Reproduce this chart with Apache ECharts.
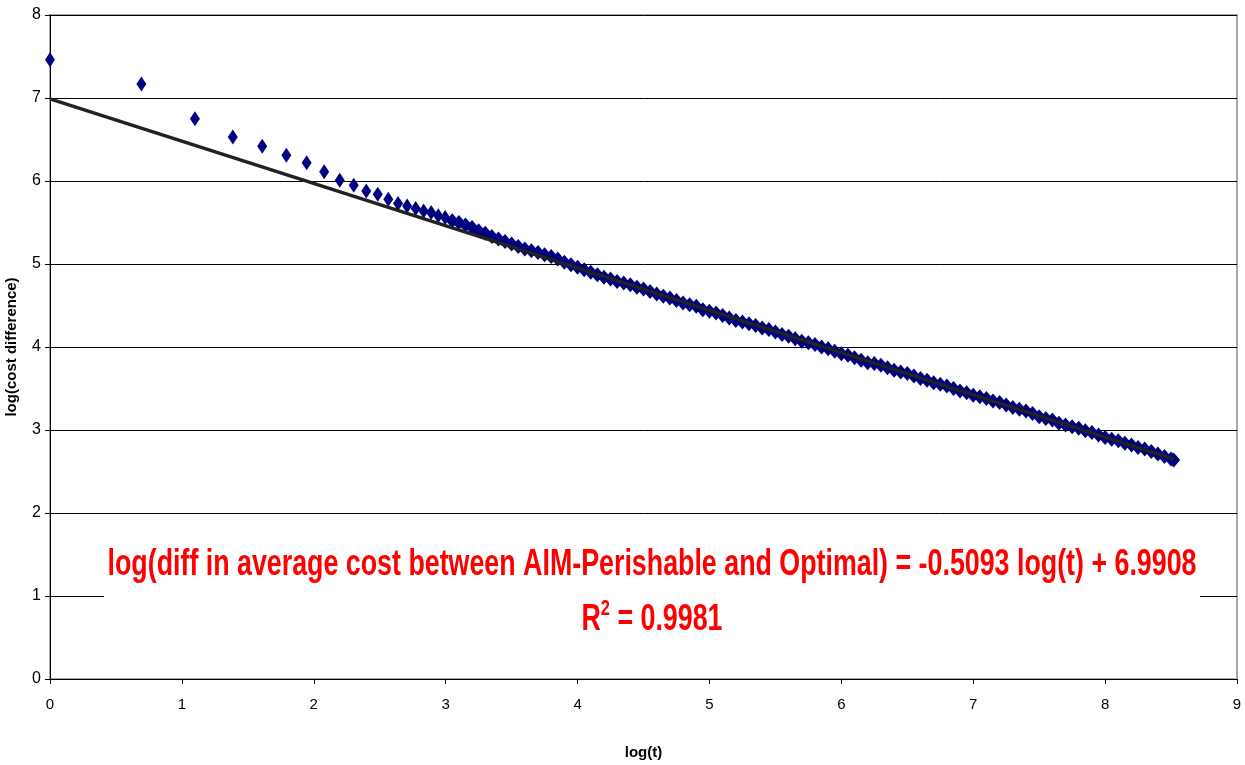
<!DOCTYPE html>
<html>
<head>
<meta charset="utf-8">
<script src="https://cdn.jsdelivr.net/npm/echarts@6/dist/echarts.min.js"></script>
<style>
  html, body { margin: 0; padding: 0; background: #fff; }
  #chart { width: 1245px; height: 765px; }
</style>
</head>
<body>
<div id="chart"></div>
<script>
// early points, one per t (t = 1..20)
var earlyLogT = [0, 0.693, 1.099, 1.386, 1.609, 1.792, 1.946, 2.079, 2.197, 2.303,
                 2.398, 2.485, 2.565, 2.639, 2.708, 2.773, 2.833, 2.890, 2.944, 2.996];
var earlyLogCost = [7.46, 7.17, 6.75, 6.53, 6.42, 6.31, 6.22, 6.11, 6.01, 5.95,
                    5.88, 5.84, 5.78, 5.73, 5.70, 5.67, 5.64, 5.62, 5.58, 5.56];

// dense band
var bandLogT = [3.05, 3.10, 3.15, 3.20, 3.25, 3.30, 3.35, 3.40, 3.45, 3.50,
                3.55, 3.60, 3.65, 3.70, 3.75, 3.80, 3.85, 3.90, 3.95, 4.00,
                4.05, 4.10, 4.15, 4.20, 4.25, 4.30, 4.35, 4.40, 4.45, 4.50,
                4.55, 4.60, 4.65, 4.70, 4.75, 4.80, 4.85, 4.90, 4.95, 5.00,
                5.05, 5.10, 5.15, 5.20, 5.25, 5.30, 5.35, 5.40, 5.45, 5.50,
                5.55, 5.60, 5.65, 5.70, 5.75, 5.80, 5.85, 5.90, 5.95, 6.00,
                6.05, 6.10, 6.15, 6.20, 6.25, 6.30, 6.35, 6.40, 6.45, 6.50,
                6.55, 6.60, 6.65, 6.70, 6.75, 6.80, 6.85, 6.90, 6.95, 7.00,
                7.05, 7.10, 7.15, 7.20, 7.25, 7.30, 7.35, 7.40, 7.45, 7.50,
                7.55, 7.60, 7.65, 7.70, 7.75, 7.80, 7.85, 7.90, 7.95, 8.00,
                8.05, 8.10, 8.15, 8.20, 8.25, 8.30, 8.35, 8.40, 8.45, 8.50, 8.52];
var bandLogCost = [5.52, 5.50, 5.47, 5.44, 5.40, 5.37, 5.33, 5.30, 5.27, 5.24,
                   5.21, 5.18, 5.16, 5.14, 5.11, 5.09, 5.06, 5.02, 4.99, 4.96,
                   4.93, 4.90, 4.87, 4.84, 4.82, 4.79, 4.77, 4.75, 4.72, 4.70,
                   4.67, 4.64, 4.61, 4.59, 4.56, 4.53, 4.51, 4.49, 4.45, 4.43,
                   4.41, 4.38, 4.35, 4.32, 4.30, 4.28, 4.26, 4.23, 4.21, 4.18,
                   4.15, 4.13, 4.10, 4.07, 4.05, 4.03, 4.00, 3.98, 3.95, 3.92,
                   3.90, 3.87, 3.84, 3.81, 3.80, 3.78, 3.75, 3.72, 3.70, 3.68,
                   3.65, 3.62, 3.60, 3.57, 3.55, 3.53, 3.50, 3.47, 3.45, 3.42,
                   3.40, 3.38, 3.35, 3.33, 3.30, 3.27, 3.25, 3.23, 3.20, 3.16,
                   3.14, 3.12, 3.08, 3.06, 3.04, 3.02, 2.99, 2.97, 2.94, 2.91,
                   2.89, 2.87, 2.84, 2.82, 2.79, 2.77, 2.74, 2.71, 2.68, 2.65, 2.64];

// trend line ends
var trendLogT = [0, 8.52];
var trendLogCost = [6.99, 2.65];

var eqText = 'log(diff in average cost between AIM-Perishable and Optimal) = -0.5093 log(t) + 6.9908';
var r2Value = '0.9981';

var earlyPts = [];
for (var i = 0; i < earlyLogT.length; i++) earlyPts.push([earlyLogT[i], earlyLogCost[i]]);
var bandPts = [];
for (var k = 0; k < bandLogT.length; k++) bandPts.push([bandLogT[k], bandLogCost[k]]);
var trend = [];
for (var j = 0; j < trendLogT.length; j++) trend.push([trendLogT[j], trendLogCost[j]]);

// squeeze the label text horizontally, like the narrow original
var eqFont = 'bold 36px "Liberation Sans", Arial, sans-serif';
var cv = document.createElement('canvas').getContext('2d');
cv.font = eqFont;
var eqScale = 1089 / cv.measureText(eqText).width;

var myChart = echarts.init(document.getElementById('chart'));

var option = {
    backgroundColor: '#fff',
    animation: false,
    grid: {
        left: 50, right: 8, top: 15, bottom: 86,
        outerBoundsMode: 'none',
        containLabel: false,
        show: true,
        borderColor: '#a6a6a6',
        borderWidth: 2
    },
    xAxis: {
        type: 'value',
        min: 0, max: 9, interval: 1,
        name: 'log(t)',
        nameLocation: 'middle',
        nameGap: 66,
        nameTextStyle: { color: '#000', fontSize: 15, fontWeight: 'bold', fontFamily: 'Liberation Sans' },
        axisLine: { onZero: false, lineStyle: { color: '#000', width: 1 } },
        axisTick: { show: true, inside: false, length: 5, lineStyle: { color: '#000' } },
        axisLabel: { color: '#000', fontSize: 15, margin: 18, fontFamily: 'Liberation Sans' },
        splitLine: { show: false }
    },
    yAxis: {
        type: 'value',
        min: 0, max: 8, interval: 1,
        name: 'log(cost difference)',
        nameLocation: 'middle',
        nameGap: 31,
        nameRotate: 90,
        nameTextStyle: { color: '#000', fontSize: 15, fontWeight: 'bold', fontFamily: 'Liberation Sans' },
        axisLine: { show: true, lineStyle: { color: '#000', width: 1 } },
        axisTick: { show: true, inside: false, length: 5, lineStyle: { color: '#000' } },
        axisLabel: { color: '#000', fontSize: 16, margin: 9, fontFamily: 'Liberation Sans' },
        splitLine: { show: true, lineStyle: { color: '#000', width: 1 } }
    },
    series: [
        {
            name: 'cost difference',
            type: 'scatter',
            symbol: 'diamond',
            symbolSize: [10, 15],
            itemStyle: { color: '#000080', opacity: 1 },
            data: earlyPts,
            z: 2
        },
        {
            // same series in the picture; the band is packed with markers
            name: 'cost difference',
            type: 'scatter',
            symbol: 'diamond',
            symbolSize: [13, 15],
            itemStyle: { color: '#000080', opacity: 1 },
            data: bandPts,
            z: 2
        },
        {
            name: 'trend',
            type: 'line',
            symbol: 'none',
            lineStyle: { color: '#222', width: 3.5 },
            data: trend,
            z: 3
        }
    ],
    graphic: [
        {
            type: 'rect',
            shape: { x: 104, y: 532, width: 1096, height: 118 },
            style: { fill: '#fff' },
            z: 50
        },
        {
            type: 'text',
            x: 652, y: 565,
            scaleX: eqScale,
            z: 51,
            style: {
                text: eqText,
                fill: '#ff0000',
                font: eqFont,
                align: 'center',
                verticalAlign: 'middle'
            }
        },
        {
            type: 'text',
            x: 652, y: 620,
            scaleX: eqScale,
            z: 51,
            style: {
                text: '{a|R}{s|2}{a| = ' + r2Value + '}',
                align: 'center',
                verticalAlign: 'middle',
                rich: {
                    a: { fill: '#ff0000', font: eqFont, lineHeight: 40 },
                    s: { fill: '#ff0000', font: 'bold 22px "Liberation Sans", Arial, sans-serif',
                         lineHeight: 40, padding: [0, 0, 22, 0] }
                }
            }
        }
    ]
};

myChart.setOption(option);
</script>
</body>
</html>
